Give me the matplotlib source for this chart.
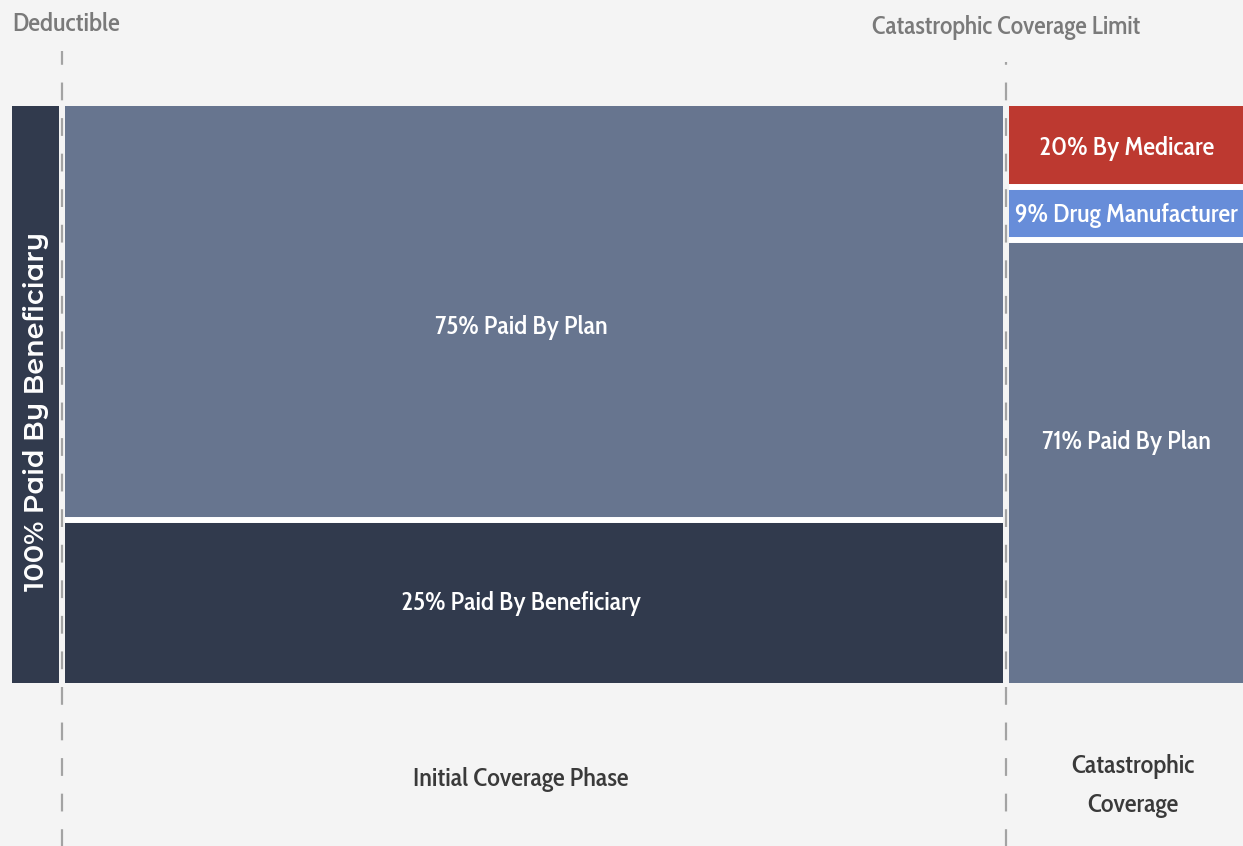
import matplotlib
matplotlib.use("Agg")
import matplotlib.pyplot as plt

# phase boundaries along the spending axis
phase_edges = [12, 62, 1006, 1243]

# drawn share of each stack (bottom -> top)
deductible_shares = [100]
initial_shares = [28.2, 71.8]
catastrophic_shares = [76.8, 9.2, 14.0]

deductible_labels = ["100% Paid By Beneficiary"]
initial_labels = ["25% Paid By Beneficiary", "75% Paid By Plan"]
catastrophic_labels = ["71% Paid By Plan", "9% Drug Manufacturer", "20% By Medicare"]

boundary_labels = ["Deductible", "Catastrophic Coverage Limit"]
phase_labels = ["Initial Coverage Phase", "Catastrophic\nCoverage"]

BG = "#f4f4f4"
DARK = "#313a4d"
PLAN = "#67758f"
RED = "#bd3930"
BLUE = "#678dd9"
COND = ["Cabin Condensed", "DejaVu Sans"]
PX = 100 / 577  # one pixel in share units

fig = plt.figure(figsize=(12.43, 8.46), dpi=100, facecolor=BG)
ax = fig.add_axes([0, 0, 1, 1])
ax.set_facecolor(BG)
ax.set_xlim(0, 1243)
ax.set_ylim(-28.25, 118.4)
ax.axis("off")

gap = 3


def stack(left, right, shares, colors, labels, dx=0, dys=None):
    bottom = 0
    dys = dys or [0] * len(shares)
    for i, (s, c, lab) in enumerate(zip(shares, colors, labels)):
        ax.bar(left, s, width=right - left, bottom=bottom, align="edge",
               color=c, linewidth=0)
        if i > 0:
            ax.hlines(bottom, left, right, colors="white", linewidth=4.3)
        ax.text((left + right) / 2 + dx, bottom + s / 2 - dys[i] * PX, lab,
                color="white", ha="center", va="center", family=COND,
                fontweight="medium", fontsize=19)
        bottom += s


# deductible column with rotated label
ax.bar(phase_edges[0], deductible_shares[0],
       width=phase_edges[1] - gap - phase_edges[0], align="edge", color=DARK,
       linewidth=0)
ax.text((phase_edges[0] + phase_edges[1] - gap) / 2 + 1, 50 - 16.5 * PX,
        deductible_labels[0], rotation=90, ha="center", va="center",
        color="white", family=["Montserrat Alternates", "DejaVu Sans"],
        fontweight="semibold", fontsize=19.5)

stack(phase_edges[1] + gap, phase_edges[2] - gap, initial_shares,
      [DARK, PLAN], initial_labels, dx=-13, dys=[2, 14])
stack(phase_edges[2] + gap, phase_edges[3] + 5, catastrophic_shares,
      [PLAN, BLUE, RED], catastrophic_labels, dx=-2, dys=[-19, 2, 2])

# dashed phase boundaries
ax.vlines(phase_edges[1], -30, 109.5, colors="#a3a3a3", linestyles=(0, (8, 8)),
          linewidth=1.6)
ax.vlines(phase_edges[2], -30, 107.7, colors="#a3a3a3", linestyles=(0, (8, 8)),
          linewidth=1.6)

ax.text(phase_edges[0], 114.2, boundary_labels[0], ha="left", va="center",
        color="#7a7a7a", family=COND, fontweight="medium", fontsize=19)
ax.text(phase_edges[2], 113.6, boundary_labels[1], ha="center", va="center",
        color="#7a7a7a", family=COND, fontweight="medium", fontsize=18.5)

ax.text((phase_edges[1] + phase_edges[2]) / 2 - 13, -16.8, phase_labels[0],
        ha="center", va="center", color="#3a3a3a", family=COND,
        fontweight="medium", fontsize=19)
ax.text((phase_edges[2] + phase_edges[3]) / 2 + 8, -17.8, phase_labels[1],
        ha="center", va="center", color="#3a3a3a", linespacing=1.75,
        family=COND, fontweight="medium", fontsize=19)

fig.savefig("out.png", dpi=100, facecolor=BG)
